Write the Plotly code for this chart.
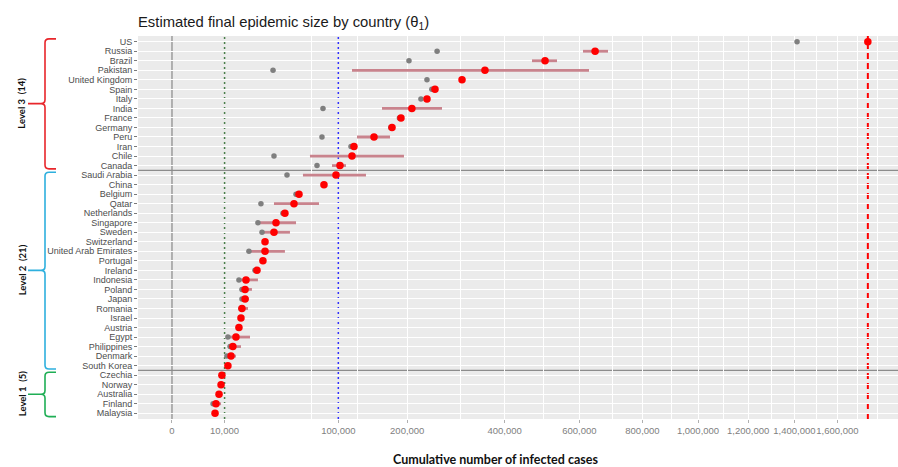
import numpy as np
import plotly.graph_objects as go

# Countries, top to bottom
countries = [
    "US", "Russia", "Brazil", "Pakistan", "United Kingdom", "Spain", "Italy",
    "India", "France", "Germany", "Peru", "Iran", "Chile", "Canada",
    "Saudi Arabia", "China", "Belgium", "Qatar", "Netherlands", "Singapore",
    "Sweden", "Switzerland", "United Arab Emirates", "Portugal", "Ireland",
    "Indonesia", "Poland", "Japan", "Romania", "Israel", "Austria", "Egypt",
    "Philippines", "Denmark", "South Korea",
    "Czechia", "Norway", "Australia", "Finland", "Malaysia",
]

# Current cumulative cases (grey points)
observed = [
    1_412_000, 254_000, 203_000, 36_900, 235_000, 244_000, 224_000,
    82_400, 187_000, 173_000, 81_300, 115_800, 37_600, 76_000,
    47_800, 83_000, 55_600, 28_600, 44_500, 26_700,
    29_300, 31_000, 21_400, 29_600, 24_900,
    16_200, 17_700, 17_700, 17_200, 17_000, 16_000, 11_300,
    12_200, 10_900, 11_200,
    8_900, 8_600, 7_900, 6_100, 6_600,
]

# Estimated final epidemic size theta_1 (red points)
estimate = [
    1_750_000, 647_000, 503_000, 354_000, 304_000, 250_000, 235_000,
    208_000, 189_500, 175_000, 147_500, 119_700, 117_100, 102_000,
    97_200, 83_500, 58_300, 53_800, 46_100, 39_100,
    37_600, 31_300, 31_300, 29_900, 26_100,
    19_800, 19_300, 19_300, 17_700, 17_200, 16_200, 14_800,
    13_400, 12_600, 11_300,
    9_000, 8_700, 8_000, 7_000, 6_700,
]

# Interval around the estimate (None where no interval is drawn)
ci_low = [
    None, 610_600, 468_400, 117_100, None, None, None,
    159_400, None, None, 123_700, None, 68_800, 92_500,
    62_000, None, None, 37_600, None, 26_700,
    29_300, None, 21_400, None, None,
    16_200, 17_700, 17_700, 17_200, None, None, 11_300,
    11_300, 10_900, None,
    None, None, None, 5_800, None,
]
ci_high = [
    None, 687_100, 535_700, 628_500, None, None, None,
    263_500, None, None, 171_800, None, 194_500, 109_400,
    136_000, None, None, 78_100, None, 55_600,
    50_300, None, 46_100, None, None,
    26_700, 23_100, 21_400, 20_900, None, None, 22_000,
    17_200, 14_800, None,
    None, None, None, 8_700, None,
]

# Country groups: label, first row, last row, colour
levels = [
    ("Level 3  (14)", 0, 13, "#e8262b"),
    ("Level 2  (21)", 14, 34, "#2eb0de"),
    ("Level 1  (5)", 35, 39, "#1fae55"),
]

tick_values = [0, 10_000, 100_000, 200_000, 400_000, 600_000, 800_000,
               1_000_000, 1_200_000, 1_400_000, 1_600_000]
# vertical white grid lines
grid_values = [70_000, 125_000, 200_000, 300_000, 400_000, 500_000, 600_000,
               700_000, 800_000, 900_000, 1_000_000, 1_100_000, 1_200_000,
               1_300_000, 1_400_000, 1_500_000, 1_600_000, 1_700_000, 1_800_000]

green_ref = 10_000
blue_ref = 100_000
red_ref = estimate[0]


def sq(v):
    """Square-root scale used for the horizontal axis."""
    return None if v is None else float(np.sqrt(v))


rows = list(range(len(countries)))

# interval segments
seg_x, seg_y = [], []
for i, (lo, hi) in enumerate(zip(ci_low, ci_high)):
    if lo is None or hi is None:
        continue
    seg_x += [sq(lo), sq(hi), None]
    seg_y += [i, i, None]

fig = go.Figure()
fig.add_trace(go.Scatter(
    x=seg_x, y=seg_y, mode="lines",
    line=dict(color="#c9838d", width=2.8),
    hoverinfo="skip", showlegend=False,
))
fig.add_trace(go.Scatter(
    x=[sq(v) for v in observed], y=rows, mode="markers",
    marker=dict(color="#7f7f7f", size=5.5),
    showlegend=False,
))
fig.add_trace(go.Scatter(
    x=[sq(v) for v in estimate], y=rows, mode="markers",
    marker=dict(color="#ff0000", size=7.5),
    showlegend=False,
))

shapes = []
# zero line and reference lines
shapes.append(dict(type="line", xref="x", yref="paper", x0=0, x1=0, y0=0, y1=1,
                   line=dict(color="#8f8f8f", width=1.3), layer="between"))
shapes.append(dict(type="line", xref="x", yref="paper", x0=sq(green_ref), x1=sq(green_ref),
                   y0=0, y1=1, line=dict(color="#4a7f4a", width=1.5, dash="2px,3px"),
                   layer="between"))
shapes.append(dict(type="line", xref="x", yref="paper", x0=sq(blue_ref), x1=sq(blue_ref),
                   y0=0, y1=1, line=dict(color="#3030ff", width=1.5, dash="2px,3px"),
                   layer="between"))
shapes.append(dict(type="line", xref="x", yref="paper", x0=sq(red_ref), x1=sq(red_ref),
                   y0=0, y1=1, line=dict(color="#ff0000", width=2, dash="6px,4px"),
                   layer="between"))

# separators between groups
for _, first, last, _c in levels[:-1]:
    shapes.append(dict(type="line", xref="paper", yref="y", x0=0, x1=1,
                       y0=last + 0.5, y1=last + 0.5,
                       line=dict(color="#8c8c8c", width=1.2), layer="between"))

# curly braces for the groups (x in paper units, y in rows)
PLOT_W = 760
xl = -93 / PLOT_W     # vertical stroke
xt = -82 / PLOT_W     # end hooks
xp = -110 / PLOT_W    # middle point
rx = 4 / PLOT_W
ry = 0.4
annotations = []
for label, first, last, color in levels:
    yt, yb = first - 0.3, last + 0.35
    ym = (first + last) / 2
    path = (
        f"M {xt},{yt} L {xl + rx},{yt} Q {xl},{yt} {xl},{yt + ry} "
        f"L {xl},{ym - ry} Q {xl},{ym} {xl - rx},{ym} L {xp},{ym} "
        f"M {xl - rx},{ym} Q {xl},{ym} {xl},{ym + ry} "
        f"L {xl},{yb - ry} Q {xl},{yb} {xl + rx},{yb} L {xt},{yb}"
    )
    shapes.append(dict(type="path", xref="paper", yref="y", path=path,
                       line=dict(color=color, width=1.6)))
    annotations.append(dict(
        text=f"<b>{label}</b>", xref="paper", yref="y",
        x=-116 / PLOT_W, y=ym, textangle=-90, showarrow=False,
        xanchor="center", yanchor="middle",
        font=dict(family="Lato", size=9.5, color="#111111"),
    ))

annotations.append(dict(
    text="<b>Cumulative number of infected cases</b>",
    xref="paper", yref="paper", x=(495 - 138) / PLOT_W, y=-40 / 383,
    xanchor="center", yanchor="middle", showarrow=False,
    font=dict(family="Lato", size=12.5, color="#111111"),
))

fig.update_layout(
    width=898, height=467,
    margin=dict(l=138, r=0, t=36, b=48),
    paper_bgcolor="white", plot_bgcolor="#ebebeb",
    font=dict(family="Liberation Sans", color="#4d4d4d"),
    title=dict(
        text="Estimated final epidemic size by country (\u03b8<sub>1</sub>)",
        x=0, xref="paper", xanchor="left",
        y=1 - 22 / 467, yref="container", yanchor="middle",
        font=dict(family="Liberation Sans", size=14.8, color="#1a1a1a"),
    ),
    xaxis=dict(
        range=[-64.6, 1380.2],
        tickmode="array",
        tickvals=[sq(v) for v in tick_values],
        ticktext=[f"{v:,}" for v in tick_values],
        tickangle=0,
        tickfont=dict(size=9.5, color="#808080"),
        ticks="outside", ticklen=3, tickcolor="#b0b0b0",
        showgrid=False,
        minor=dict(tickmode="array", tickvals=[sq(v) for v in grid_values],
                   showgrid=True, gridcolor="white", gridwidth=1.1, ticks=""),
        zeroline=False, showline=False,
    ),
    yaxis=dict(
        range=[len(countries) - 0.4, -0.6],
        tickmode="array", tickvals=rows, ticktext=countries,
        tickfont=dict(size=9, color="#4d4d4d"),
        ticks="outside", ticklen=3, tickcolor="#7a7a7a",
        showgrid=True, gridcolor="white", gridwidth=1,
        zeroline=False, showline=False,
    ),
    shapes=shapes,
    annotations=annotations,
)

fig.write_html("out.html")
